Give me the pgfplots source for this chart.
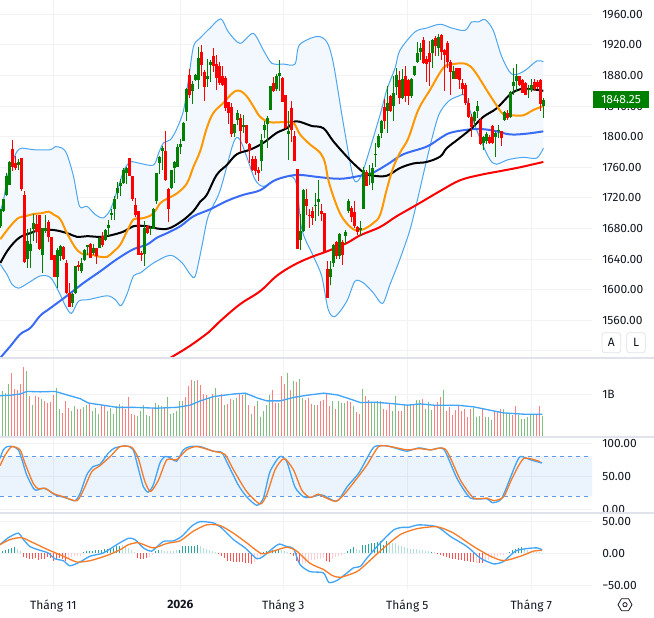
\documentclass[border=0pt]{standalone}
\usepackage{fontspec}
\setmainfont{Fira Sans}
\usepackage{pgfplots}
\usepackage{pgfplotstable}
\pgfplotsset{compat=1.18}
\usepgfplotslibrary{fillbetween}

\definecolor{gridc}{HTML}{F0F2F6}
\definecolor{sepc}{HTML}{E0E3EB}
\definecolor{txt}{HTML}{131722}
\definecolor{cup}{HTML}{008000}
\definecolor{cdown}{HTML}{FF0000}
\definecolor{volup}{HTML}{7FBF7F}
\definecolor{voldown}{HTML}{FF7F7F}
\definecolor{bandline}{HTML}{4DA6EE}
\definecolor{bandfill}{HTML}{F3F8FE}
\definecolor{orangema}{HTML}{FF9800}
\definecolor{bluema}{HTML}{3A6BF5}
\definecolor{kline}{HTML}{42A5F5}
\definecolor{dline}{HTML}{F57C2B}
\definecolor{stochband}{HTML}{5B9BEE}
\definecolor{histpd}{HTML}{26A69A}
\definecolor{histpl}{HTML}{B2DFDB}
\definecolor{histnd}{HTML}{FF5252}
\definecolor{histnl}{HTML}{FFCDD2}

% candles: index, body top, body bottom, high, low
\pgfplotstableread{
i t b h l
0 1705 1683 1706 1680
1 1718 1703 1719 1702
2 1749 1724 1752 1722
3 1767 1737 1768 1737
6 1767 1763 1771 1757
9 1664 1640 1679 1629
10 1660 1650 1680 1629
11 1687 1679 1699 1664
14 1680 1646 1680 1622
15 1680 1677 1697 1674
19 1652 1617 1654 1602
20 1657 1644 1659 1637
24 1594 1583 1596 1578
25 1631 1596 1631 1595
27 1635 1624 1641 1622
28 1652 1639 1653 1638
29 1658 1656 1659 1645
31 1654 1648 1660 1646
33 1668 1654 1669 1654
35 1678 1665 1679 1664
36 1684 1680 1691 1670
37 1700 1698 1705 1691
38 1718 1705 1722 1691
39 1733 1727 1741 1718
40 1740 1735 1745 1722
41 1757 1740 1759 1738
42 1759 1753 1761 1738
48 1681 1647 1690 1631
50 1681 1679 1683 1671
51 1705 1679 1707 1679
52 1752 1716 1752 1712
53 1773 1765 1775 1751
54 1785 1781 1788 1757
57 1756 1733 1757 1732
58 1767 1759 1768 1740
59 1786 1761 1790 1760
60 1790 1787 1797 1777
61 1818 1795 1819 1794
62 1863 1832 1864 1820
64 1869 1860 1873 1843
65 1881 1874 1882 1873
66 1903 1874 1917 1862
69 1880 1875 1902 1865
70 1898 1894 1900 1872
78 1816 1805 1817 1800
79 1831 1822 1835 1815
81 1815 1813 1829 1805
87 1796 1768 1803 1755
88 1815 1809 1820 1798
89 1825 1817 1827 1785
90 1866 1835 1866 1835
92 1880 1862 1882 1860
93 1883 1880 1900 1860
96 1808 1803 1833 1770
100 1677 1665 1699 1652
101 1730 1677 1731 1676
105 1711 1709 1727 1690
106 1719 1714 1744 1696
110 1627 1616 1637 1606
111 1659 1635 1660 1630
113 1673 1644 1674 1640
115 1676 1670 1678 1660
116 1716 1703 1718 1700
120 1680 1678 1690 1670
121 1757 1706 1760 1705
123 1752 1750 1763 1737
124 1759 1739 1765 1730
125 1777 1776 1792 1761
126 1801 1787 1804 1785
127 1821 1805 1822 1798
129 1844 1833 1866 1805
131 1857 1840 1879 1820
132 1881 1865 1890 1854
134 1876 1850 1889 1849
137 1875 1853 1877 1851
138 1892 1881 1893 1880
139 1910 1897 1924 1896
140 1916 1911 1922 1900
144 1927 1909 1928 1890
146 1930 1916 1934 1905
151 1886 1876 1893 1875
158 1832 1820 1833 1813
159 1840 1833 1847 1825
161 1800 1792 1801 1782
162 1803 1794 1806 1790
165 1805 1800 1806 1773
166 1809 1807 1815 1798
168 1832 1822 1834 1820
170 1859 1826 1860 1825
171 1872 1866 1890 1854
172 1879 1873 1895 1858
176 1863 1861 1868 1850
177 1867 1861 1875 1858
181 1848.25 1840 1851 1825
}\candleup

\pgfplotstableread{
i t b h l
4 1784 1761 1796 1755
5 1766 1759 1775 1756
7 1772 1731 1772 1729
8 1724 1636 1729 1635
12 1686 1675 1698 1661
13 1697 1653 1698 1652
16 1689 1669 1691 1663
17 1669 1639 1669 1639
18 1645 1617 1645 1617
21 1656 1640 1657 1639
22 1635 1596 1639 1595
23 1596 1578 1609 1578
26 1632 1630 1637 1625
30 1660 1642 1661 1641
32 1654 1644 1655 1633
34 1670 1658 1675 1656
43 1772 1748 1772 1748
44 1748 1719 1748 1716
45 1711 1698 1720 1695
46 1703 1646 1703 1645
47 1648 1646 1650 1637
49 1683 1674 1685 1673
55 1781 1743 1807 1742
56 1731 1706 1733 1688
63 1881 1855 1889 1851
67 1911 1894 1920 1880
68 1885 1865 1887 1847
71 1906 1892 1916 1885
72 1895 1877 1907 1861
73 1892 1870 1898 1868
74 1880 1868 1892 1866
75 1877 1837 1880 1833
76 1845 1831 1845 1816
77 1839 1803 1844 1800
80 1824 1807 1830 1780
82 1815 1792 1815 1790
83 1790 1782 1792 1765
84 1771 1756 1775 1755
85 1771 1755 1775 1750
86 1756 1753 1760 1742
91 1870 1860 1878 1858
94 1877 1846 1878 1845
95 1855 1811 1855 1810
97 1838 1809 1847 1793
98 1801 1768 1807 1768
99 1758 1653 1758 1653
102 1718 1709 1731 1698
103 1698 1696 1705 1680
104 1703 1694 1708 1685
107 1703 1699 1712 1690
108 1700 1648 1700 1648
109 1627 1589 1637 1589
112 1662 1644 1664 1640
114 1663 1646 1665 1632
117 1707 1695 1709 1688
118 1701 1683 1716 1680
119 1682 1675 1683 1672
122 1754 1736 1756 1735
128 1839 1820 1849 1810
130 1853 1833 1855 1832
133 1874 1850 1886 1843
135 1880 1853 1892 1846
136 1874 1853 1876 1842
141 1927 1896 1930 1895
142 1901 1895 1905 1871
143 1909 1898 1925 1866
145 1929 1918 1932 1905
147 1933 1911 1934 1900
148 1913 1907 1915 1860
149 1922 1897 1925 1890
150 1897 1885 1900 1855
152 1890 1876 1890 1875
153 1890 1874 1890 1862
154 1870 1863 1875 1855
155 1868 1844 1870 1842
156 1844 1826 1850 1825
157 1826 1813 1830 1800
160 1822 1790 1824 1789
163 1800 1792 1802 1791
164 1814 1792 1815 1790
167 1807 1798 1808 1788
169 1831 1824 1835 1822
173 1880 1868 1880 1866
174 1874 1857 1875 1857
175 1870 1855 1872 1854
178 1872 1863 1876 1860
179 1872 1865 1874 1862
180 1874 1843 1875 1833
}\candledown

\pgfplotsset{
  chartpanel/.style={
    scale only axis, width=444pt, anchor=north west,
    axis line style={draw=none}, major tick length=0pt,
    tick style={draw=none},
    grid=major, grid style={color=gridc, line width=0.75pt},
    yticklabel pos=right,
    tick label style={font=\fontsize{9}{10}\selectfont, text=txt},
    yticklabel style={anchor=west, inner sep=0pt, xshift=7.5pt},
    xticklabels={},
    clip=true,
  },
  bodybar/.style={draw=none, mark=none, forget plot,
    error bars/.cd, y dir=minus, y explicit, error mark=none,
    error bar style={draw=#1, line width=1.8pt}},
  wickbar/.style={draw=none, mark=none, forget plot,
    error bars/.cd, y dir=minus, y explicit, error mark=none,
    error bar style={draw=#1, line width=0.7pt}},
  hist/.style={ycomb, forget plot, mark=none, color=#1, line width=0.75pt, xshift=-0.5pt},
}

\begin{document}
\begin{tikzpicture}

% price panel
\begin{axis}[chartpanel, at={(0pt,0pt)}, height=268.5pt,
  xmin=-0.11, xmax=197.22, ymin=1510.7, ymax=1978.7,
  xtick={17.66,59.99,94.32,135.66,176.99},
  ytick={1560,1600,1640,1680,1720,1760,1800,1840,1880,1920,1960},
  yticklabels={1560.00,1600.00,1640.00,1680.00,1720.00,1760.00,1800.00,1840.00,1880.00,1920.00,1960.00},
  extra y ticks={1520}, extra y tick labels={},
]
\addplot[name path=bbu, color=bandline, line width=0.75pt, smooth, tension=0.5, forget plot] coordinates {
(0,1703)(1.1,1718)(2.4,1748)(3.9,1766)(5.6,1781)(7.2,1785)(11.1,1783)(16.7,1783)(18.3,1787)(20.6,1785)(22.2,1777)(24.4,1748)(26.4,1709)(28.9,1709)(31.7,1698)(34.4,1694)(36.7,1705)(38.9,1729)(41.1,1755)(43.3,1767)(46.7,1765)(51.1,1763)(52.8,1779)(54.4,1792)(56.7,1796)(58.9,1811)(61.1,1835)(62.8,1877)(64.4,1918)(66.6,1929)(69.9,1942)(73.5,1954)(76,1937)(79.9,1922)(84.3,1935)(87.7,1913)(90.5,1896)(94.3,1895)(98.2,1895)(99.7,1920)(105.5,1931)(108.8,1924)(111,1896)(114.3,1818)(117.7,1746)(119.9,1746)(122.1,1770)(126.6,1829)(128.8,1861)(131.6,1890)(133.2,1913)(138.2,1937)(142.1,1942)(146.6,1947)(150.5,1942)(154.9,1939)(157.1,1950)(159.3,1950)(161.6,1953)(164.3,1939)(167.1,1905)(170.4,1882)(174.3,1885)(178.8,1899)(181,1898)};
\addplot[name path=bbl, color=bandline, line width=0.75pt, smooth, tension=0.5, forget plot] coordinates {
(0,1633)(2.2,1620)(3.9,1607)(6.1,1602)(9.4,1609)(13.3,1618)(16.7,1616)(19.4,1598)(21.7,1579)(23.7,1569)(26.1,1585)(29.4,1587)(35.6,1592)(38.3,1587)(40.2,1579)(42.2,1594)(44.4,1618)(46.7,1622)(51.1,1635)(56.7,1645)(60.6,1635)(63.3,1620)(65,1618)(67.2,1657)(69.3,1696)(73.2,1729)(77.7,1792)(79.7,1797)(82.1,1774)(84.9,1744)(87.7,1735)(92.1,1744)(98.2,1744)(100.5,1679)(104.3,1644)(107.1,1618)(109.3,1574)(111.6,1565)(115.5,1585)(118.2,1611)(121,1609)(124.3,1596)(127.4,1582)(129.9,1607)(133.2,1640)(136.6,1679)(139.3,1722)(142.7,1779)(146,1827)(149.3,1846)(152.7,1853)(154.9,1853)(157.7,1820)(160.5,1792)(163.2,1770)(165.4,1764)(169.3,1770)(174.3,1773)(178.8,1772)(181,1785)};
\addplot[bandfill, forget plot] fill between[of=bbu and bbl];

% 200 day
\addplot[color=red, line width=1.5pt, smooth, tension=0.6, forget plot] coordinates {
(56.7,1511)(62.2,1524)(66.6,1536)(69.9,1546)(73.3,1559)(79.9,1581)(86.6,1598)(92.1,1618)(97.7,1632)(103.2,1642)(108.8,1650)(115.5,1661)(119.9,1671)(126.6,1682)(132.1,1696)(138.8,1711)(146.6,1729)(153.2,1743)(159.9,1750)(166.6,1755)(173.2,1760)(181,1767)};
% 100 day
\addplot[color=bluema, line width=1.5pt, smooth, tension=0.6, forget plot] coordinates {
(0,1511)(3.3,1526)(6.7,1542)(10,1550)(13.3,1566)(16.7,1576)(22.2,1592)(27.8,1609)(33.3,1624)(38.9,1640)(44.4,1653)(48.9,1659)(52.2,1668)(55.6,1674)(60,1683)(64.4,1696)(69.9,1705)(75.5,1716)(81,1724)(86.6,1730)(91,1742)(95.5,1748)(99.9,1750)(106.6,1747)(113.2,1745)(118.8,1748)(124.3,1753)(126.6,1758)(129.9,1766)(134.3,1777)(142.1,1787)(146.6,1798)(149.9,1805)(155.4,1809)(159.9,1810)(164.3,1808)(169.9,1803)(175.5,1804)(181,1807)};
% 50 day
\addplot[color=black, line width=1.5pt, smooth, tension=0.6, forget plot] coordinates {
(0,1635)(2.2,1650)(4.4,1661)(6.7,1669)(10,1674)(13.3,1678)(17.8,1678)(22.2,1674)(25.6,1669)(28.9,1670)(33.3,1669)(36.7,1671)(41.1,1676)(44.4,1683)(48.9,1683)(52.2,1680)(56.1,1680)(60.6,1690)(64.4,1703)(66.6,1715)(68.8,1724)(72.1,1750)(75.5,1763)(78.8,1777)(83.2,1783)(87.7,1792)(92.1,1805)(95.5,1811)(98.2,1820)(101,1818)(103.8,1814)(107.7,1811)(111,1794)(115.5,1774)(118.8,1761)(121.6,1752)(124.3,1749)(128.8,1749)(133.2,1759)(137.7,1765)(142.1,1767)(146.6,1774)(148.8,1785)(152.7,1797)(157.1,1811)(161,1826)(165.4,1837)(169.9,1855)(173.2,1862)(177.1,1862)(181,1860)};
% 20 day
\addplot[color=orangema, line width=1.5pt, smooth, tension=0.6, forget plot] coordinates {
(0,1666)(3.3,1683)(6.1,1694)(8.3,1696)(11.1,1699)(13.9,1700)(16.1,1702)(17.8,1698)(20,1692)(22.2,1674)(25,1655)(27.2,1647)(30,1646)(33.3,1643)(35.6,1643)(37.8,1650)(40,1659)(42.2,1676)(44.4,1692)(46.7,1693)(48.9,1695)(51.1,1700)(53.3,1713)(55.6,1719)(58.9,1726)(62.2,1739)(64.4,1761)(66.6,1781)(68.8,1811)(71,1831)(74.3,1844)(77.7,1858)(79.9,1860)(82.1,1853)(84.3,1840)(86.6,1826)(89.9,1819)(94.3,1819)(97.7,1818)(99.9,1803)(103.2,1790)(106.6,1779)(108.2,1766)(109.3,1744)(111,1722)(113.2,1700)(115.4,1687)(118.2,1678)(121,1679)(124.3,1687)(126.6,1698)(128.8,1731)(131,1760)(133.2,1779)(136,1798)(139.3,1835)(143.2,1861)(147.7,1890)(151,1895)(155.4,1895)(158.2,1885)(162.1,1861)(164.9,1844)(167.7,1829)(170.4,1828)(174.3,1828)(177.7,1835)(181,1840)};

\addplot[wickbar=cup] table[x=i, y=h, y error minus expr=\thisrow{h}-\thisrow{l}] {\candleup};
\addplot[wickbar=cdown] table[x=i, y=h, y error minus expr=\thisrow{h}-\thisrow{l}] {\candledown};
\addplot[bodybar=cup] table[x=i, y=t, y error minus expr=\thisrow{t}-\thisrow{b}] {\candleup};
\addplot[bodybar=cdown] table[x=i, y=t, y error minus expr=\thisrow{t}-\thisrow{b}] {\candledown};
\end{axis}

% volume panel
\begin{axis}[chartpanel, at={(0pt,-268.5pt)}, height=59.25pt,
  xmin=0.233, xmax=197.57, ymin=0, ymax=1.837,
  xtick={18,60.33,94.67,136,177.33},
  ytick={1}, yticklabels={1B},
]
\addplot[ycomb, mark=none, forget plot, color=volup, line width=0.75pt] coordinates {
(1,1.06)(2,1.02)(3,1.24)(9,1.54)(11,.74)(14,.89)(19,1.14)(20,.64)(24,.61)(25,.71)(28,.69)(29,.75)(31,.61)(32,.67)(33,.54)(36,.60)(37,.67)(38,.54)(39,.71)(40,.77)(46,.48)(47,.61)(48,.75)(49,.52)(50,.50)(52,.78)(53,.75)(54,.71)(56,.94)(57,.54)(58,.56)(59,.61)(60,.83)(61,.84)(65,1.31)(70,.91)(72,1.14)(73,.91)(75,.75)(78,.85)(79,.91)(82,1.02)(84,.53)(86,.83)(87,.47)(88,.60)(89,.75)(90,.98)(93,.79)(96,1.49)(98,1.31)(100,1.36)(101,.91)(105,.75)(111,.83)(113,.83)(114,.78)(115,.79)(118,.71)(121,1.12)(124,.78)(125,.81)(126,.83)(127,.84)(131,.60)(132,.96)(135,.74)(137,.74)(139,.87)(140,.87)(142,.66)(143,.81)(144,.62)(148,1.10)(158,.67)(159,.47)(160,.48)(162,.46)(163,.47)(164,.40)(168,.64)(169,.53)(170,.53)(173,.52)(174,.43)(175,.43)(176,.46)(177,.52)(178,.52)(181,.50)};
\addplot[ycomb, mark=none, forget plot, color=voldown, line width=0.75pt] coordinates {
(4,1.49)(5,1.12)(6,1.10)(7,1.24)(8,1.63)(10,.95)(12,.95)(13,.92)(15,.84)(16,.78)(17,.81)(18,.98)(21,.56)(22,.84)(23,.67)(26,.66)(27,.66)(30,.77)(34,.75)(35,.75)(41,.71)(42,.66)(43,.92)(44,.54)(45,.52)(51,.67)(55,.69)(62,.93)(63,1.19)(64,1.32)(66,1.33)(67,1.22)(68,1.00)(69,.98)(71,1.00)(74,1.00)(76,.77)(77,.89)(80,1.00)(81,.98)(83,.74)(85,.71)(91,1.10)(92,.79)(94,1.43)(95,1.23)(97,1.10)(99,1.28)(102,.87)(103,.91)(104,.77)(106,.74)(107,.83)(108,.87)(109,1.02)(110,.71)(112,.66)(116,.84)(117,.81)(119,.58)(120,.54)(122,.96)(123,.87)(128,.66)(129,.62)(130,.78)(133,.60)(134,.61)(136,.74)(138,.77)(141,.89)(145,.74)(146,.81)(147,.92)(149,.60)(150,.70)(151,.52)(152,.62)(153,.71)(154,.61)(155,.64)(156,.46)(157,.64)(161,.64)(165,.60)(166,.60)(167,.64)(171,.52)(172,.71)(179,.53)(180,.73)};
\addplot[color=kline, line width=1pt, forget plot] coordinates {
(0.3,.96)(3.6,.97)(7,1.0)(9.2,1.06)(13.6,1.05)(18.6,1.06)(22.5,.98)(27,.89)(29.7,.79)(33.6,.75)(39.2,.69)(44.7,.69)(52.5,.67)(59.2,.69)(63.6,.74)(67,.84)(71.4,.94)(78.1,1.0)(82,1.02)(85.9,.91)(89.2,.84)(93.6,.84)(98.1,.92)(102.5,.97)(108.2,1.02)(112.6,.98)(117.1,.88)(120.4,.80)(124.9,.81)(130.4,.78)(136,.74)(140.4,.77)(144.9,.74)(152.6,.74)(158.2,.70)(163.8,.62)(168.2,.56)(174.9,.53)(181,.53)};
\end{axis}

% stochastic panel
\begin{axis}[chartpanel, at={(0pt,-327.75pt)}, height=57pt,
  xmin=0, xmax=197.33, ymin=-5.6, ymax=109.5,
  xtick={17.77,60.1,94.43,135.77,177.1},
  ytick={0,50,100}, yticklabels={0.00,50.00,100.00},
]
\addplot[draw=none, fill=stochband, fill opacity=0.12, forget plot] coordinates {(0,20)(197.33,20)(197.33,80)(0,80)} \closedcycle;
\addplot[color=stochband, dashed, line width=0.75pt, forget plot] coordinates {(0,80)(197.33,80)};
\addplot[color=stochband, dashed, line width=0.75pt, forget plot] coordinates {(0,20)(197.33,20)};
\addplot[color=kline, line width=1pt, smooth, tension=0.4, forget plot] coordinates {
(0,77)(1.1,90)(2.4,95)(4.4,95)(6.1,90)(7.2,77)(8.9,52)(11.1,32)(12.2,29)(14.4,32)(16.1,29)(18.3,22)(22.2,17)(25,13)(26.7,24)(28.9,52)(31.1,65)(33.3,68)(36.1,85)(38.3,93)(42.2,96)(44.4,90)(46.1,62)(47.8,34)(49.4,26)(51.1,37)(53.3,70)(55,80)(56.7,78)(58.9,73)(61.1,90)(63.3,95)(66.7,95)(71.1,88)(73.9,86)(76.1,67)(79.4,37)(82.2,19)(85.6,6)(87.8,17)(90,57)(93.3,80)(95.6,72)(98.3,34)(101.1,19)(103.3,18)(106.7,22)(107.9,21)(111.2,13)(112.9,14)(115.7,34)(119.6,55)(122.3,77)(124.8,95)(129,96)(132.3,92)(135.7,88)(139.6,93)(143.5,90)(147.9,91)(152.3,47)(156.8,17)(162.3,16)(164.2,10)(167.3,17)(171.8,67)(173.5,80)(176.8,75)(180.7,70)};
\addplot[color=dline, line width=1pt, smooth, tension=0.4, forget plot] coordinates {
(0,66)(1.7,82)(3.9,95)(6.7,90)(8.3,70)(11.1,39)(12.8,31)(15,32)(17.8,24)(21.1,19)(25.6,13)(27.8,29)(30.6,57)(33.3,66)(37.2,82)(40,95)(43.9,94)(46.1,77)(48.3,42)(50.2,27)(52.8,44)(55.6,75)(58.9,75)(62.2,90)(65.6,95)(71.1,88)(75,83)(77.8,60)(82.2,27)(86.7,8)(88.9,22)(91.7,60)(94.7,77)(97.8,60)(100.6,29)(103.3,18)(106.1,23)(107.9,19)(111.8,12)(114.6,22)(119,47)(122.3,67)(126.2,95)(130.1,95)(135.7,90)(139.6,92)(143.5,90)(148.5,91)(153.5,44)(157.9,17)(162.3,17)(164.6,13)(167.9,19)(170.7,47)(174.6,77)(180.1,72)};
\end{axis}

% MACD panel
\begin{axis}[chartpanel, at={(0pt,-384.75pt)}, height=57.75pt,
  xmin=0, xmax=197.33, ymin=-57.8, ymax=62.5,
  xtick={17.77,60.1,94.43,135.77,177.1},
  xticklabels={Tháng 11,\textbf{2026},Tháng 3,Tháng 5,Tháng 7},
  xticklabel style={inner sep=0pt, yshift=-7.5pt},
  ytick={-50,0,50}, yticklabels={−50.00,0.00,50.00},
]
\addplot[hist=histpd] coordinates {
(1,2.6)(2,5.2)(3,6.8)(4,7.8)(5,8.9)(28,1.5)(29,2.6)(30,2.6)(31,3.6)(32,4.2)(33,5.2)(34,5.2)(35,6.8)(36,6.8)(37,7.8)(38,7.8)(39,10.4)(40,11.5)(52,2.6)(53,5.2)(60,5.2)(61,10.4)(62,11.5)(63,11.5)(64,11.5)(65,11.5)(66,13)(88,1.5)(89,2.6)(90,3.6)(91,5.2)(92,5.2)(93,6.8)(116,2.6)(117,6.8)(118,8.9)(121,12)(122,13)(123,14)(124,15.6)(125,15.6)(126,17)(127,19)(128,13)(129,18)(144,1.5)(170,1.5)(171,5.2)(172,6.8)(173,7.8)(174,8.9)};
\addplot[hist=histpl] coordinates {
(6,6.8)(7,2.6)(41,13)(42,10.4)(43,7.8)(44,5.2)(45,1.5)(54,5.2)(55,3.6)(56,3.6)(57,3.6)(58,3.6)(59,4.2)(67,10.4)(68,7.8)(69,6.8)(70,5.2)(71,3.6)(72,1)(94,5.2)(95,2.6)(96,1.5)(115,0.5)(119,6.8)(120,5.2)(130,15.6)(131,15.6)(132,15.6)(133,13)(134,10.4)(135,8.9)(136,7.8)(137,6.8)(138,6.8)(139,6.3)(140,5.2)(141,4.2)(142,3)(143,2.6)(145,1)(175,6.8)(176,5.2)(177,3.6)(178,2.6)(179,1.5)(180,1)(181,0.5)};
\addplot[hist=histnd] coordinates {
(8,-6.3)(9,-7.8)(10,-8.9)(11,-8.9)(12,-7.8)(13,-10.4)(14,-8.9)(15,-8.9)(16,-6.3)(17,-7.8)(18,-12)(19,-8.9)(20,-7.8)(21,-8.9)(22,-13)(46,-7.8)(47,-8.9)(48,-8.9)(49,-7.8)(73,-1)(74,-4.2)(75,-7.8)(76,-12)(77,-13)(78,-14)(79,-14.6)(80,-14)(81,-14.6)(82,-15.6)(83,-15.6)(84,-16.7)(97,-1)(98,-5.2)(99,-13)(100,-18.2)(109,-12)(110,-14)(146,-1.6)(147,-2.6)(148,-4.2)(149,-6.3)(150,-7.8)(151,-8.9)(152,-9.4)(153,-10.4)(154,-11.5)(155,-12)(156,-13)(157,-14)(158,-14)(160,-15.6)(161,-15.6)};
\addplot[hist=histnl] coordinates {
(23,-8.9)(24,-6.3)(25,-5.2)(26,-5.2)(27,-4.2)(50,-6.3)(51,-2.6)(85,-14)(86,-8.9)(87,-5.2)(101,-17.2)(102,-15.6)(103,-13)(104,-11.5)(105,-10.4)(106,-8.9)(107,-8.9)(108,-7.8)(111,-8.9)(112,-6.3)(113,-4.2)(114,-2.6)(159,-15.6)(162,-13)(163,-10.4)(164,-7.8)(165,-6.8)(166,-5.2)(167,-3.6)(168,-2.6)(169,-0.8)};
\addplot[color=kline, line width=1pt, smooth, tension=0.4, forget plot] coordinates {
(0,13)(2.8,24)(6.1,31)(7.8,21)(10,10)(12.8,5)(16.1,0)(18.3,-9)(21.1,-12)(23.3,-20)(26.7,-14)(30,-5)(34.4,0)(38.9,13)(42.8,23)(45,21)(47.8,8)(50.6,3)(54.4,18)(57.8,19)(60.6,26)(63.9,42)(66.7,49)(71.1,47)(73.9,39)(77.8,21)(81.7,8)(85.6,-9)(87.8,-5)(91.1,8)(93.1,14)(95.6,10)(97.8,7)(100,-18)(103.3,-29)(107.8,-31)(109.6,-46)(112.3,-43)(115.7,-31)(117.9,-23)(120.1,-21)(122.3,-8)(126.8,16)(131.2,36)(134,40)(136.2,40)(139.6,44)(145.7,41)(150.1,26)(155.7,10)(160.1,-8)(164.6,-17)(167.9,-13)(171.8,3)(175.7,7)(179,8)(180.7,5)};
\addplot[color=dline, line width=1pt, smooth, tension=0.4, forget plot] coordinates {
(0,13)(3.3,21)(7.2,24)(11.1,16)(15.6,6)(21.1,-5)(25.6,-14)(30,-12)(35.6,-4)(40,5)(42.8,13)(46.1,16)(51.1,8)(55.6,15)(60,19)(64.4,34)(68.9,44)(73.3,43)(77.8,31)(82.2,16)(87.2,-1)(91.1,3)(95.6,9)(98.9,3)(103.3,-16)(107.9,-26)(110.7,-35)(113.5,-38)(119,-29)(122.3,-16)(127.9,8)(133.5,29)(139,38)(145.7,41)(151.2,31)(157.9,10)(163.5,-5)(167.9,-12)(173.5,-5)(177.9,3)(180.7,4)};
\end{axis}

% panel separators
\draw[sepc, line width=0.9pt] (0pt,-268.5pt) -- (490.5pt,-268.5pt);
\draw[sepc, line width=0.9pt] (0pt,-327.75pt) -- (490.5pt,-327.75pt);
\draw[sepc, line width=0.9pt] (0pt,-384.75pt) -- (490.5pt,-384.75pt);

% last price label
\node[fill=cup, text=white, anchor=north west, minimum width=42pt, minimum height=12.5pt, inner sep=0pt, font=\fontsize{9}{10}\selectfont] at (444.6pt,-68.3pt) {1848.25};

% auto and log buttons
\node[draw=sepc, fill=white, rounded corners=2pt, line width=0.6pt, minimum width=14pt, minimum height=15pt, inner sep=0pt, text=txt, font=\fontsize{9}{10}\selectfont] at (458.5pt,-257pt) {A};
\node[draw=sepc, fill=white, rounded corners=2pt, line width=0.6pt, minimum width=14pt, minimum height=15pt, inner sep=0pt, text=txt, font=\fontsize{9}{10}\selectfont] at (477pt,-257pt) {L};

% settings icon
\draw[txt, line width=0.6pt, line join=round] (463.5pt,-453.5pt) -- (466.1pt,-449pt) -- (471.4pt,-449pt) -- (474pt,-453.5pt) -- (471.4pt,-458pt) -- (466.1pt,-458pt) -- cycle;
\draw[txt, line width=0.6pt] (468.75pt,-453.5pt) circle (1.6pt);

\pgfresetboundingbox
\path[use as bounding box] (0pt,0pt) rectangle (490.5pt,-463.5pt);
\end{tikzpicture}
\end{document}
